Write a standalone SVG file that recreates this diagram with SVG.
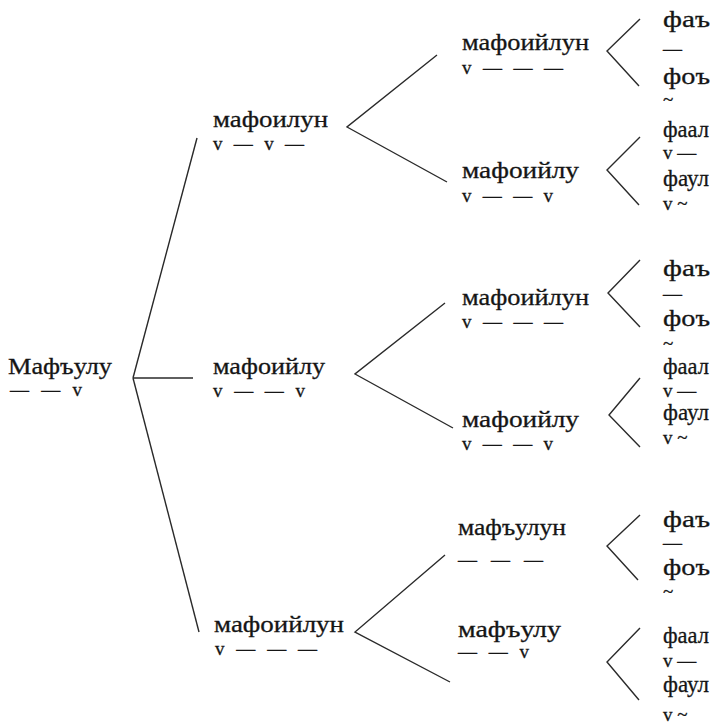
<svg xmlns="http://www.w3.org/2000/svg" width="722" height="726" viewBox="0 0 722 726">
<style>
.w{font-family:"Liberation Serif","Times New Roman",serif;font-size:24px;fill:#151515;stroke:#151515;stroke-width:0.3}
.p{font-family:"Liberation Serif","Times New Roman",serif;font-size:19px;fill:#151515;stroke:#151515;stroke-width:0.3}
.c line,.c polyline{stroke:#2a2a2a;stroke-width:1.4;fill:none}
</style>
<rect width="722" height="726" fill="#ffffff"/>
<g class="c" id="connectors">
<line x1="133" y1="378" x2="197" y2="138"/>
<line x1="133" y1="378" x2="193" y2="378"/>
<line x1="133" y1="378" x2="199" y2="632"/>
<polyline points="437,55 347,127 447,182"/>
<polyline points="445,303 355,374 453,428"/>
<polyline points="445,555 355,632 450,682"/>
<polyline points="640,19 607,51 639,86"/>
<polyline points="640,137 607,170 639,205"/>
<polyline points="640,260 608,293 640,327"/>
<polyline points="640,378 609,415 640,447"/>
<polyline points="640,515 607,546 638,580"/>
<polyline points="640,628 607,662 639,700"/>
</g>
<g id="root"><text class="w" x="8" y="374" textLength="104" lengthAdjust="spacingAndGlyphs">Мафъулу</text><text class="p" x="10" y="396" textLength="72">— — v</text></g>
<g id="n-a"><text class="w" x="213" y="127" textLength="115" lengthAdjust="spacingAndGlyphs">мафоилун</text><text class="p" x="213" y="150" textLength="91">v — v —</text></g>
<g id="n-b"><text class="w" x="213" y="374" textLength="112" lengthAdjust="spacingAndGlyphs">мафоийлу</text><text class="p" x="213" y="397" textLength="92">v — — v</text></g>
<g id="n-c"><text class="w" x="214" y="632" textLength="130" lengthAdjust="spacingAndGlyphs">мафоийлун</text><text class="p" x="215" y="655" textLength="102">v — — —</text></g>
<g id="n-a1"><text class="w" x="462" y="50" textLength="127" lengthAdjust="spacingAndGlyphs">мафоийлун</text><text class="p" x="462" y="74" textLength="101">v — — —</text></g>
<g id="n-a2"><text class="w" x="462" y="178" textLength="117" lengthAdjust="spacingAndGlyphs">мафоийлу</text><text class="p" x="462" y="202" textLength="91">v — — v</text></g>
<g id="n-b1"><text class="w" x="462" y="305" textLength="127" lengthAdjust="spacingAndGlyphs">мафоийлун</text><text class="p" x="462" y="328" textLength="101">v — — —</text></g>
<g id="n-b2"><text class="w" x="462" y="427" textLength="117" lengthAdjust="spacingAndGlyphs">мафоийлу</text><text class="p" x="462" y="450" textLength="91">v — — v</text></g>
<g id="n-c1"><text class="w" x="458" y="535" textLength="108" lengthAdjust="spacingAndGlyphs">мафъулун</text><text class="p" x="458" y="566" textLength="85">— — —</text></g>
<g id="n-c2"><text class="w" x="458" y="637" textLength="103" lengthAdjust="spacingAndGlyphs">мафъулу</text><text class="p" x="458" y="658" textLength="71">— — v</text></g>
<g id="leaves-a">
<text class="w" x="663" y="27" textLength="47" lengthAdjust="spacingAndGlyphs">фаъ</text>
<text class="p" x="663" y="55">—</text>
<text class="w" x="663" y="84" textLength="47" lengthAdjust="spacingAndGlyphs">фоъ</text>
<text class="p" x="663" y="106">~</text>
<text class="w" x="663" y="137" textLength="46" lengthAdjust="spacingAndGlyphs">фаал</text>
<text class="p" x="663" y="159">v —</text>
<text class="w" x="663" y="186" textLength="46" lengthAdjust="spacingAndGlyphs">фаул</text>
<text class="p" x="663" y="210">v ~</text>
</g>
<g id="leaves-b">
<text class="w" x="663" y="276" textLength="47" lengthAdjust="spacingAndGlyphs">фаъ</text>
<text class="p" x="663" y="300">—</text>
<text class="w" x="663" y="326" textLength="47" lengthAdjust="spacingAndGlyphs">фоъ</text>
<text class="p" x="663" y="350">~</text>
<text class="w" x="663" y="374" textLength="46" lengthAdjust="spacingAndGlyphs">фаал</text>
<text class="p" x="663" y="397">v —</text>
<text class="w" x="663" y="420" textLength="46" lengthAdjust="spacingAndGlyphs">фаул</text>
<text class="p" x="663" y="444">v ~</text>
</g>
<g id="leaves-c">
<text class="w" x="663" y="527" textLength="47" lengthAdjust="spacingAndGlyphs">фаъ</text>
<text class="p" x="663" y="549">—</text>
<text class="w" x="663" y="575" textLength="47" lengthAdjust="spacingAndGlyphs">фоъ</text>
<text class="p" x="663" y="598">~</text>
<text class="w" x="663" y="643" textLength="46" lengthAdjust="spacingAndGlyphs">фаал</text>
<text class="p" x="663" y="667">v —</text>
<text class="w" x="663" y="692" textLength="46" lengthAdjust="spacingAndGlyphs">фаул</text>
<text class="p" x="663" y="721">v ~</text>
</g>
</svg>
